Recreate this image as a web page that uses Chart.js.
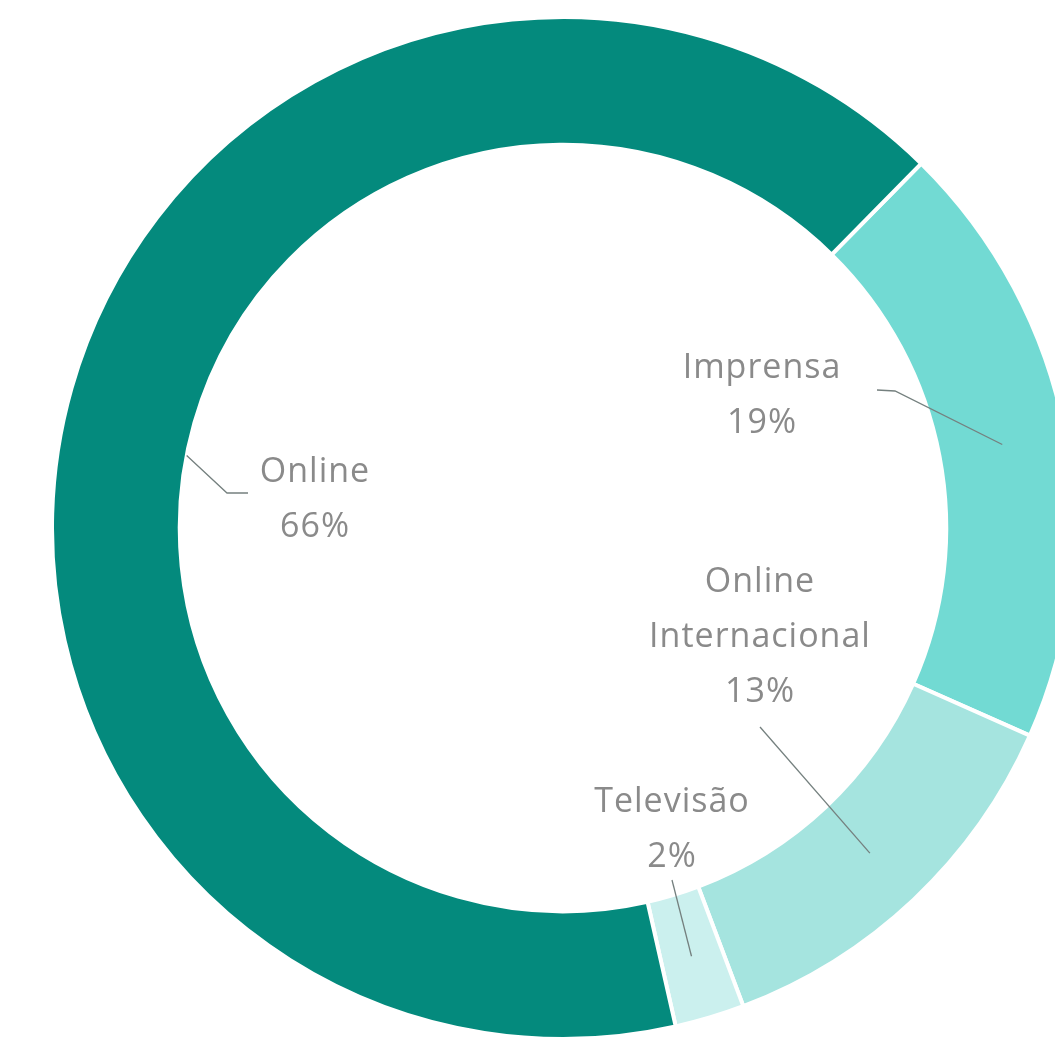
<!DOCTYPE html>
<html>
<head>
<meta charset="utf-8">
<script src="https://cdn.jsdelivr.net/npm/chart.js@4/dist/chart.umd.min.js"></script>
<style>
  html, body { margin: 0; padding: 0; background: #fff; overflow: hidden; }
  #wrap { width: 1126px; height: 1042px; }
</style>
</head>
<body>
<div id="wrap"><canvas id="doughnut-chart" width="1126" height="1042"></canvas></div>
<script>
// dados (fatias em sentido horário a partir de Imprensa)
var categorias = ["Imprensa", "Online Internacional", "Televisão", "Online"];
var valores = [19.3, 12.6, 2.2, 65.9];
var cores = ["#72dad3", "#a5e4df", "#cbf0ee", "#048a7d"];

// onde ficam os textos (em px, relativos ao centro) e o ponto de quebra da linha
var rotulos = [
    { linhas: ["Imprensa"], tx: 199, ty: -160, linha: [[332, -137], [314, -138]], raio: 0.5 },
    { linhas: ["Online", "Internacional"], tx: 197, ty: 54, linha: [[197, 199]], raio: 0.5 },
    { linhas: ["Televisão"], tx: 109, ty: 274, linha: [[109, 352]], raio: 0.5 },
    { linhas: ["Online"], tx: -248, ty: -56, linha: [[-336, -35], [-315, -35]], raio: 0, angulo: -0.087 }
];

var pluginRotulos = {
    id: 'rotulos',
    afterDatasetsDraw: function (chart) {
        var ctx = chart.ctx;
        var arcos = chart.getDatasetMeta(0).data;
        var total = valores.reduce(function (a, b) { return a + b; }, 0);
        ctx.save();
        ctx.font = '34px "Open Sans", "Noto Sans", sans-serif';
        ctx.letterSpacing = '1px';
        ctx.fillStyle = '#8a8a8a';
        ctx.textAlign = 'center';
        ctx.textBaseline = 'middle';
        arcos.forEach(function (arco, i) {
            var r = rotulos[i];
            var p = arco.getProps(['x', 'y', 'startAngle', 'endAngle', 'innerRadius', 'outerRadius'], true);
            var meio = (p.startAngle + p.endAngle) / 2 + (r.angulo || 0);
            var raio = p.innerRadius + (p.outerRadius - p.innerRadius) * r.raio;
            // linha de ligação
            ctx.beginPath();
            ctx.strokeStyle = '#75807f';
            ctx.lineWidth = 1.3;
            ctx.moveTo(p.x + Math.cos(meio) * raio, p.y + Math.sin(meio) * raio);
            r.linha.forEach(function (pt) { ctx.lineTo(p.x + pt[0], p.y + pt[1]); });
            ctx.stroke();
            // texto
            var textos = r.linhas.concat([Math.round(valores[i] / total * 100) + '%']);
            textos.forEach(function (t, k) {
                ctx.fillText(t, p.x + r.tx, p.y + r.ty + k * 55);
            });
        });
        ctx.restore();
    }
};

new Chart(document.getElementById("doughnut-chart"), {
    type: 'doughnut',
    data: {
        labels: categorias,
        datasets: [
            {
                data: valores,
                backgroundColor: cores,
                borderColor: '#ffffff',
                borderWidth: 4,
                hoverOffset: 0
            }
        ]
    },
    options: {
        responsive: false,
        animation: false,
        rotation: 44.5,
        cutout: '75%',
        layout: { padding: { top: 15, bottom: 1, left: 0, right: 0 } },
        plugins: {
            legend: { display: false },
            tooltip: { enabled: false },
            title: { display: false }
        }
    },
    plugins: [pluginRotulos]
});
</script>
</body>
</html>
